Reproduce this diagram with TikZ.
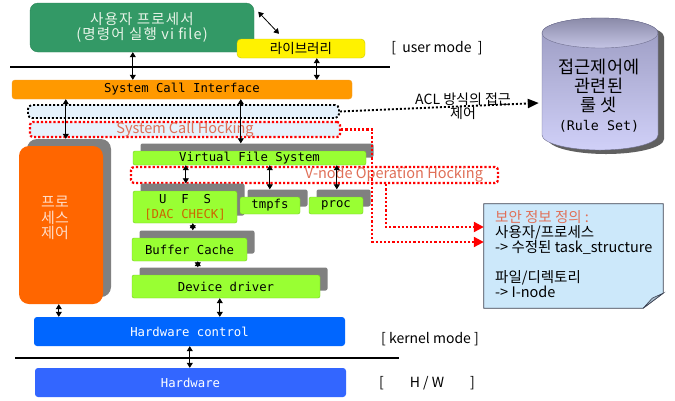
\documentclass[tikz,border=0pt]{standalone}
\usepackage{fontspec}
\setmainfont{Noto Sans CJK KR}
\newfontfamily\monof{DejaVu Sans Mono}
\usetikzlibrary{arrows.meta,shadows}
\definecolor{ugreen}{HTML}{339966}
\definecolor{ugreenedge}{HTML}{2D8659}
\definecolor{utext}{HTML}{E8F4E8}
\definecolor{libedge}{HTML}{C8C800}
\definecolor{sciorange}{HTML}{FF9900}
\definecolor{sciedge}{HTML}{F0A030}
\definecolor{dotfill}{HTML}{E6F2FC}
\definecolor{hock}{HTML}{E07058}
\definecolor{pcorange}{HTML}{FF6600}
\definecolor{pctext}{HTML}{FFDDC8}
\definecolor{lgreen}{HTML}{99FF33}
\definecolor{gedge}{HTML}{77CC22}
\definecolor{shgray}{HTML}{808080}
\definecolor{dac}{HTML}{CC6600}
\definecolor{hcblue}{HTML}{0066FF}
\definecolor{hwblue}{HTML}{3366FF}
\definecolor{notefill}{HTML}{CCE8FA}
\definecolor{noteedge}{HTML}{3A4050}
\definecolor{flapfill}{HTML}{A8BCCC}
\definecolor{cyledge}{HTML}{707090}
\definecolor{cyltop}{HTML}{9A9AC0}
\definecolor{cylbot}{HTML}{D0D0F8}
\definecolor{captop}{HTML}{8A8AA8}
\definecolor{capbot}{HTML}{C4C4E4}
\definecolor{cylshadow}{HTML}{606060}
\begin{document}
\begin{tikzpicture}[x=1pt,y=-1pt,
  mono/.style={font=\monof\fontsize{12.3}{15}\selectfont},
  gbox/.style={draw=gedge, fill=lgreen, rounded corners=2pt, inner sep=0pt,
    general shadow={fill=shgray, shadow xshift=7.5pt, shadow yshift=7.5pt}, mono},
  dbl/.style={{Triangle[length=5pt,width=6pt]}-{Triangle[length=5pt,width=6pt]}, line width=0.8pt},
  blkdot/.style={draw=black, line width=1.9pt, dash pattern=on 2pt off 2pt},
  reddot/.style={draw=red, line width=2.2pt, dash pattern=on 2.2pt off 2pt},
  lbl/.style={font=\fontsize{14}{16}\selectfont, inner sep=0pt}
]
\useasboundingbox (0,0) rectangle (675,400);
\fill[white] (0,0) rectangle (675,400);

% user mode part
\node[draw=ugreenedge, fill=ugreen, rounded corners=8pt, minimum width=224pt, minimum height=49pt,
  align=center, text=utext, font=\addfontfeature{LetterSpace=8}\fontsize{14.5}{15.5}\selectfont] (user) at (142,27.5)
  {사용자 프로세서\\(명령어 실행 vi file)};
\node[draw=libedge, fill=yellow, rounded corners=4pt, minimum width=128pt, minimum height=19pt,
  inner sep=0pt, font=\fontsize{13.5}{15}\selectfont] (lib) at (301,48.5) {라이브러리};
\node[lbl] (um) at (437,48) {[\ \ user mode\ \ ]};
\draw[line width=1.2pt] (10,67) -- (390,67);

\node[fill=sciorange, draw=sciedge, rounded corners=3pt, minimum width=340pt, minimum height=19pt,
  inner sep=0pt, mono] (sci) at (182,89.5) {System Call Interface};

\node[blkdot, fill=dotfill, rounded corners=4pt, minimum width=311pt, minimum height=13pt,
  inner sep=0pt] (acl) at (183.5,111.5) {};
\node[reddot, fill=dotfill, rounded corners=3pt, minimum width=310pt, minimum height=15pt,
  inner sep=0pt, text=hock, font=\fontsize{14.5}{16}\selectfont] (sch) at (185,129.5) {System Call Hocking};

% process control
\node[fill=pcorange, rounded corners=10pt, minimum width=84pt, minimum height=158pt,
  general shadow={fill=shgray, shadow xshift=8pt, shadow yshift=7pt}] (pc) at (61,225) {};
\node[align=center, text=pctext, font=\fontsize{15}{15.5}\selectfont, inner sep=0pt] (pcl) at (55,218) {프로\\세스\\제어};

% file system
\node[gbox, minimum width=233pt, minimum height=14pt] (vfs) at (249.5,158) {Virtual File System};
\node[reddot, rounded corners=3pt, minimum width=367pt, minimum height=16pt, inner sep=0pt] (vn) at (314.5,175) {};
\node[text=hock, font=\fontsize{14.5}{16}\selectfont, inner sep=0pt] (vnl) at (394,175) {V-node Operation Hocking};
\node[gbox, minimum width=104pt, minimum height=32pt, align=center] (ufs) at (185,207)
  {U\ \ F\ \ S\\\textcolor{dac}{[DAC CHECK]}};
\node[gbox, minimum width=60pt, minimum height=17pt] (tmpfs) at (270,205.5) {tmpfs};
\node[gbox, minimum width=54pt, minimum height=17pt] (proc) at (336,205.5) {proc};
\node[gbox, minimum width=115pt, minimum height=23pt] (buf) at (189.5,249.5) {Buffer Cache};
\node[gbox, minimum width=188pt, minimum height=23pt] (dev) at (226,286.5) {Device driver};

% hardware
\node[fill=hcblue, rounded corners=3pt, minimum width=311pt, minimum height=29pt, inner sep=0pt,
  text=white, mono] (hc) at (189.5,331.5) {Hardware control};
\node[lbl] (km) at (430,339) {[ kernel mode ]};
\draw[line width=1.2pt] (15,358) -- (399,358);
\node[fill=hwblue, rounded corners=3pt, minimum width=311pt, minimum height=29pt, inner sep=0pt,
  text=white, mono] (hw) at (190.5,382.5) {Hardware};
\node[lbl] (hwl) at (427,383) {[\hspace{26pt}H / W\hspace{26pt}]};

% rule set cylinder
\fill[cylshadow] (548,37) -- (548,139) arc[start angle=180,end angle=360,x radius=58pt,y radius=15pt]
  -- (664,37) arc[start angle=0,end angle=180,x radius=58pt,y radius=15pt] -- cycle;
\shade[top color=cyltop, bottom color=cylbot, draw=cyledge, line width=0.4pt]
  (542,33) -- (542,135) arc[start angle=180,end angle=360,x radius=58pt,y radius=15pt]
  -- (658,33) arc[start angle=0,end angle=180,x radius=58pt,y radius=15pt] -- cycle;
\shade[top color=captop, bottom color=capbot, draw=cyledge, line width=0.4pt]
  (600,33) ellipse [x radius=58pt, y radius=15pt];
\node[minimum width=116pt, minimum height=132pt, inner sep=0pt] (cyl) at (600,84) {};
\node[align=center, font=\fontsize{17.5}{19}\selectfont, inner sep=0pt] (cylt) at (599,96)
  {접근제어에\\관련된\\룰 셋\\{\monof\fontsize{13.3}{19}\selectfont (Rule Set)}};

% note
\node[minimum width=179pt, minimum height=104pt, inner sep=0pt] (note) at (573.5,256) {};
\filldraw[fill=notefill, draw=noteedge, line width=0.8pt] (note.north west) -- (note.north east)
  -- ([yshift=15pt]note.south east) -- ([xshift=-20pt]note.south east) -- (note.south west) -- cycle;
\filldraw[fill=flapfill, draw=noteedge, line width=0.6pt] ([yshift=15pt]note.south east)
  -- ([xshift=-11pt,yshift=10pt]note.south east) -- ([xshift=-20pt]note.south east) -- cycle;
\node[anchor=north west, align=left, font=\fontsize{14.5}{15}\selectfont, inner sep=0pt] (notet) at (495,210)
  {\textcolor{hock}{보안 정보 정의 :}\\사용자/프로세스\\-> 수정된 task\_structure\\[15pt]파일/디렉토리\\-> I-node};

% ACL connector
\draw[blkdot, -{Triangle[length=11pt,width=9pt]}] (acl.east) -- ([xshift=-3pt,yshift=-19pt]cyl.west);
\node[align=center, font=\fontsize{14}{14}\selectfont, inner sep=0pt] (acll) at (463,106) {ACL 방식의 접근\\제어};

% red hooking connectors
\draw[reddot, -{Triangle[length=10pt,width=10pt]}] (sch.east) -- ++(31pt,0) |- ([yshift=14pt]note.west);
\draw[reddot, -{Triangle[length=10pt,width=10pt]}] ([xshift=256pt]vn.south west) |- ([yshift=29pt]note.west);

% double arrows
\draw[dbl] ([xshift=4pt,yshift=-9pt]user.north east) -- ([xshift=-22pt,yshift=5pt]lib.north);
\draw[dbl] ([xshift=103pt]user.south west) -- ([xshift=121pt]sci.north west);
\draw[dbl] ([xshift=80pt]lib.south west) -- ([xshift=305pt]sci.north west);
\draw[dbl] ([xshift=54pt]sci.south west) -- ([xshift=47pt,yshift=7pt]pc.north west);
\draw[dbl] ([xshift=229pt]sci.south west) -- ([xshift=108pt,yshift=7.5pt]vfs.north west);
\draw[dbl] ([xshift=53pt]vfs.south west) -- ([xshift=53pt,yshift=7.5pt]ufs.north west);
\draw[dbl] ([xshift=137pt]vfs.south west) -- ([xshift=30pt,yshift=7.5pt]tmpfs.north west);
\draw[dbl] ([xshift=204pt]vfs.south west) -- ([xshift=28pt,yshift=7.5pt]proc.north west);
\draw[dbl] ([xshift=60pt]ufs.south west) -- ([xshift=61pt,yshift=7.5pt]buf.north west);
\draw[dbl] ([xshift=66pt]buf.south west) -- ([xshift=66pt,yshift=7.5pt]dev.north west);
\draw[dbl] ([xshift=88pt]dev.south west) -- ([xshift=186pt]hc.north west);
\draw[dbl] ([xshift=40pt]pc.south west) -- ([xshift=25pt]hc.north west);
\draw[dbl] ([xshift=156pt]hc.south west) -- ([xshift=155pt]hw.north west);
\end{tikzpicture}
\end{document}
